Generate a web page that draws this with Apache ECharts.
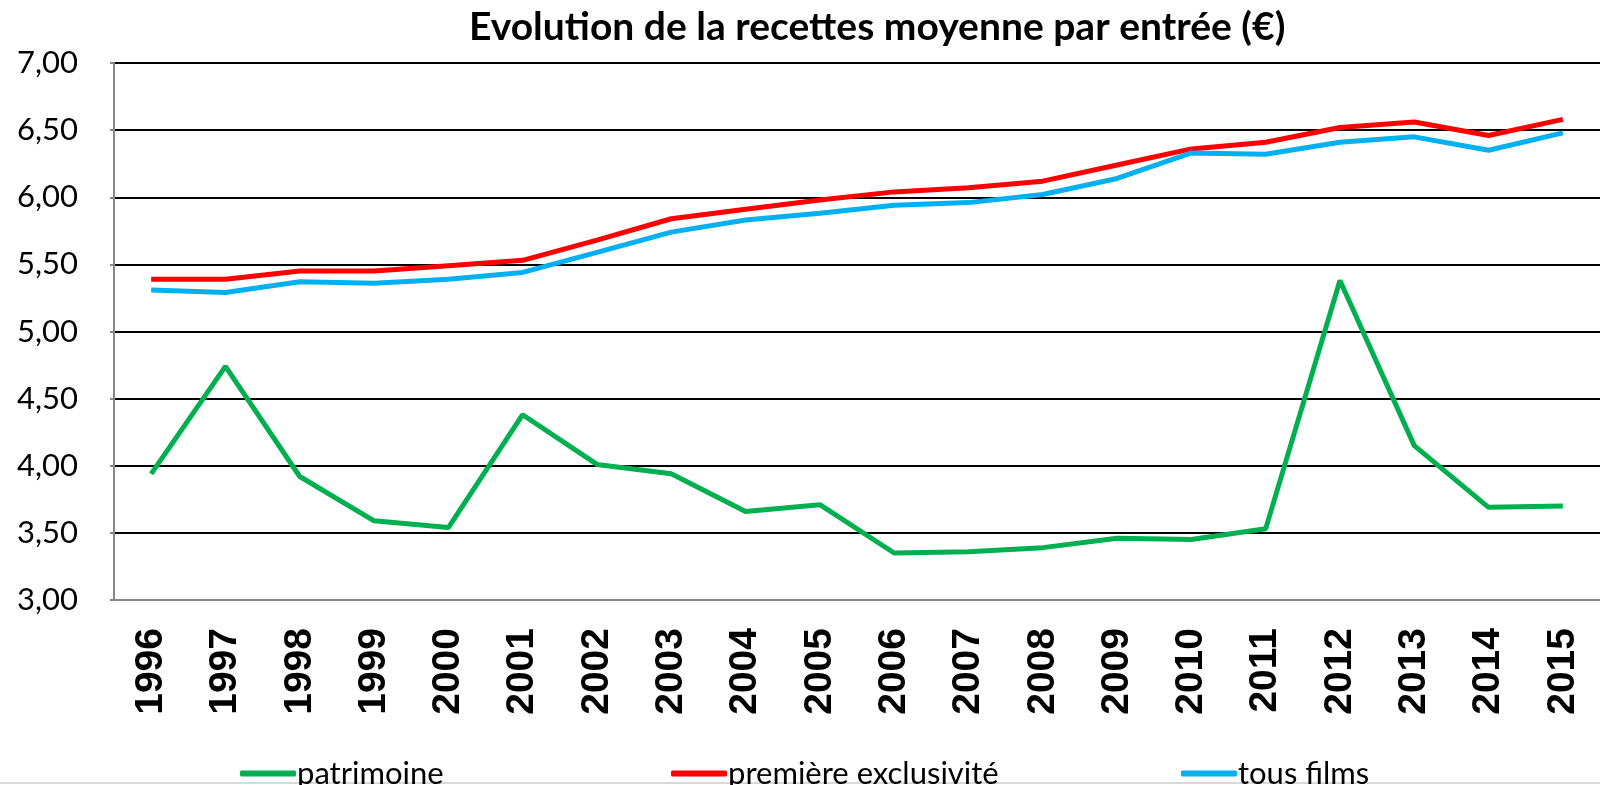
<!DOCTYPE html>
<html>
<head>
<meta charset="utf-8">
<script src="https://cdn.jsdelivr.net/npm/echarts@6/dist/echarts.min.js"></script>
<style>
  html, body { margin: 0; padding: 0; background: #fff; }
  #app { width: 1600px; height: 785px; }
</style>
</head>
<body>
<div id="app"></div>
<script>
// données
var annees = ['1996', '1997', '1998', '1999', '2000', '2001', '2002', '2003', '2004', '2005',
              '2006', '2007', '2008', '2009', '2010', '2011', '2012', '2013', '2014', '2015'];
var patrimoine = [3.94, 4.74, 3.92, 3.59, 3.54, 4.38, 4.01, 3.94, 3.66, 3.71,
                  3.35, 3.36, 3.39, 3.46, 3.45, 3.53, 5.38, 4.15, 3.69, 3.70];
var premiere = [5.39, 5.39, 5.45, 5.45, 5.49, 5.53, 5.68, 5.84, 5.91, 5.98,
                6.04, 6.07, 6.12, 6.24, 6.36, 6.41, 6.52, 6.56, 6.46, 6.58];
var tousFilms = [5.31, 5.29, 5.37, 5.36, 5.39, 5.44, 5.59, 5.74, 5.83, 5.88,
                 5.94, 5.96, 6.02, 6.14, 6.33, 6.32, 6.41, 6.45, 6.35, 6.48];

var police = 'Lato, "Open Sans", sans-serif';

var myEchart = echarts.init(document.getElementById('app'));

function legende(nom, x) {
    return {
        data: [nom],
        left: x,
        top: 753,
        icon: 'roundRect',
        itemWidth: 56,
        itemHeight: 6,
        itemGap: 4,
        textStyle: { fontFamily: police, fontSize: 31, color: '#000', padding: [0, 0, 0, -4] }
    };
}

myEchart.setOption({
    animation: false,
    title: {
        text: 'Evolution de la recettes moyenne par entrée (€)',
        left: 464,
        top: 3,
        textStyle: { fontFamily: police, fontSize: 39, fontWeight: 'bold', color: '#000' }
    },
    legend: [
        legende('patrimoine', 235),
        legende('première exclusivité', 666),
        legende('tous films', 1176)
    ],
    grid: { left: 114, right: 0, top: 63, bottom: 185 },
    xAxis: {
        type: 'category',
        data: annees,
        boundaryGap: true,
        axisLine: { lineStyle: { color: '#868686', width: 2 } },
        axisTick: { inside: true, length: 13, lineStyle: { color: '#868686', width: 2 } },
        axisLabel: {
            rotate: 90,
            margin: 28,
            fontFamily: '"Liberation Sans", Arial, sans-serif',
            fontWeight: 'bold',
            fontSize: 39,
            color: '#000'
        }
    },
    yAxis: {
        type: 'value',
        min: 3,
        max: 7,
        interval: 0.5,
        axisLine: { show: true, lineStyle: { color: '#868686', width: 2 } },
        axisTick: { show: true, length: 4, lineStyle: { color: '#868686', width: 2 } },
        splitLine: { lineStyle: { color: '#000', width: 2 } },
        axisLabel: {
            margin: 36,
            fontFamily: police,
            fontSize: 31,
            color: '#000',
            formatter: function (v) { return v.toFixed(2).replace('.', ','); }
        }
    },
    graphic: [{
        type: 'line',
        shape: { x1: 0, y1: 783, x2: 1600, y2: 783 },
        style: { stroke: '#d9d9d9', lineWidth: 2 }
    }],
    series: [
        {
            name: 'patrimoine', type: 'line', data: patrimoine, symbol: 'none',
            lineStyle: { color: '#00B050', width: 5 }, itemStyle: { color: '#00B050' }
        },
        {
            name: 'première exclusivité', type: 'line', data: premiere, symbol: 'none',
            lineStyle: { color: '#FF0000', width: 5 }, itemStyle: { color: '#FF0000' }
        },
        {
            name: 'tous films', type: 'line', data: tousFilms, symbol: 'none',
            lineStyle: { color: '#00B0F0', width: 5 }, itemStyle: { color: '#00B0F0' }
        }
    ]
});
</script>
</body>
</html>
